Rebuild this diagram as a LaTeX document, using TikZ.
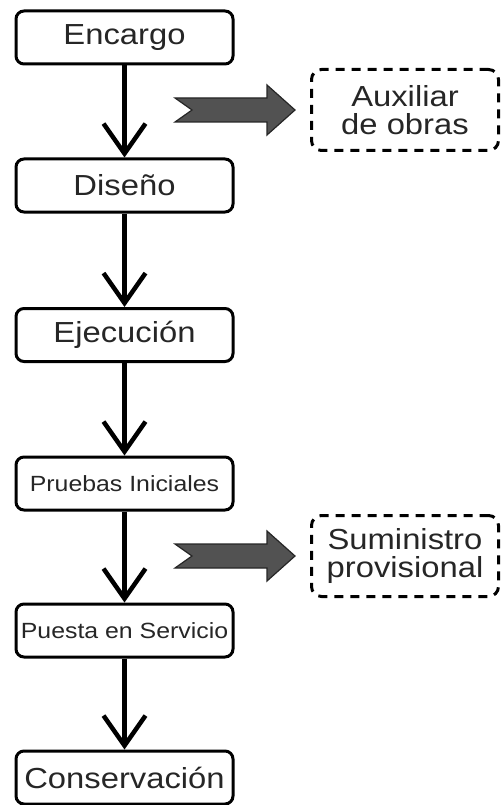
\documentclass[tikz,border=0pt]{standalone}
\usepackage{fontspec}
\setmainfont[FakeStretch=1.13]{Liberation Sans}
\usepackage{tikz}
\usetikzlibrary{arrows.meta, positioning}
\tikzstyle{stepbox} = [draw, line width=3pt, rounded corners=8pt, minimum width=217pt, minimum height=53pt, inner sep=0pt, text=black!85, font=\fontsize{29}{29}\selectfont]
\tikzstyle{small} = [font=\fontsize{22}{22}\selectfont]
\tikzstyle{sidebox} = [draw, line width=3pt, dash pattern=on 9pt off 7pt, rounded corners=10pt, minimum width=187pt, minimum height=81pt, inner sep=0pt, align=center, text=black!85, font=\fontsize{29}{28}\selectfont]
\tikzstyle{line} = [draw, line width=4.5pt, -{Straight Barb[length=30pt, width=42pt]}]
\tikzstyle{barrow} = [fill=black!68, draw=black!85, line width=1.2pt, line join=miter]
\newcommand{\blockarrow}[1]{\filldraw[barrow] (#1) -- ++(-28,-25) -- ++(0,13) -- ++(-92,0) -- ++(17,12) -- ++(-17,12) -- ++(92,0) -- ++(0,13) -- cycle;}

\begin{document}
\begin{tikzpicture}[x=1pt, y=-1pt]
			\useasboundingbox (0,0) rectangle (501,805);
			\node [stepbox] (enc) at (124.5, 37.5) {Encargo};
			\node [stepbox] (dis) at (124.5, 185.5) {Diseño};
			\node [stepbox] (eje) at (124.5, 335) {Ejecución};
			\node [stepbox, small] (pru) at (124.5, 483.5) {Pruebas Iniciales};
			\node [stepbox, small] (pue) at (124.5, 630.5) {Puesta en Servicio};
			\node [stepbox] (con) at (124.5, 777.5) {Conservación};
			\node [sidebox] (aux) at (405, 110) {Auxiliar\\de obras};
			\node [sidebox] (sum) at (405, 556) {Suministro\\provisional};

			\path [line] (enc) -- (dis);
			\path [line] (dis) -- (eje);
			\path [line] (eje) -- (pru);
			\path [line] (pru) -- (pue);
			\path [line] (pue) -- (con);

			\coordinate (auxtip) at (295, 110);
			\coordinate (sumtip) at (295, 556);
			\blockarrow{auxtip}
			\blockarrow{sumtip}
		\end{tikzpicture}
\end{document}
